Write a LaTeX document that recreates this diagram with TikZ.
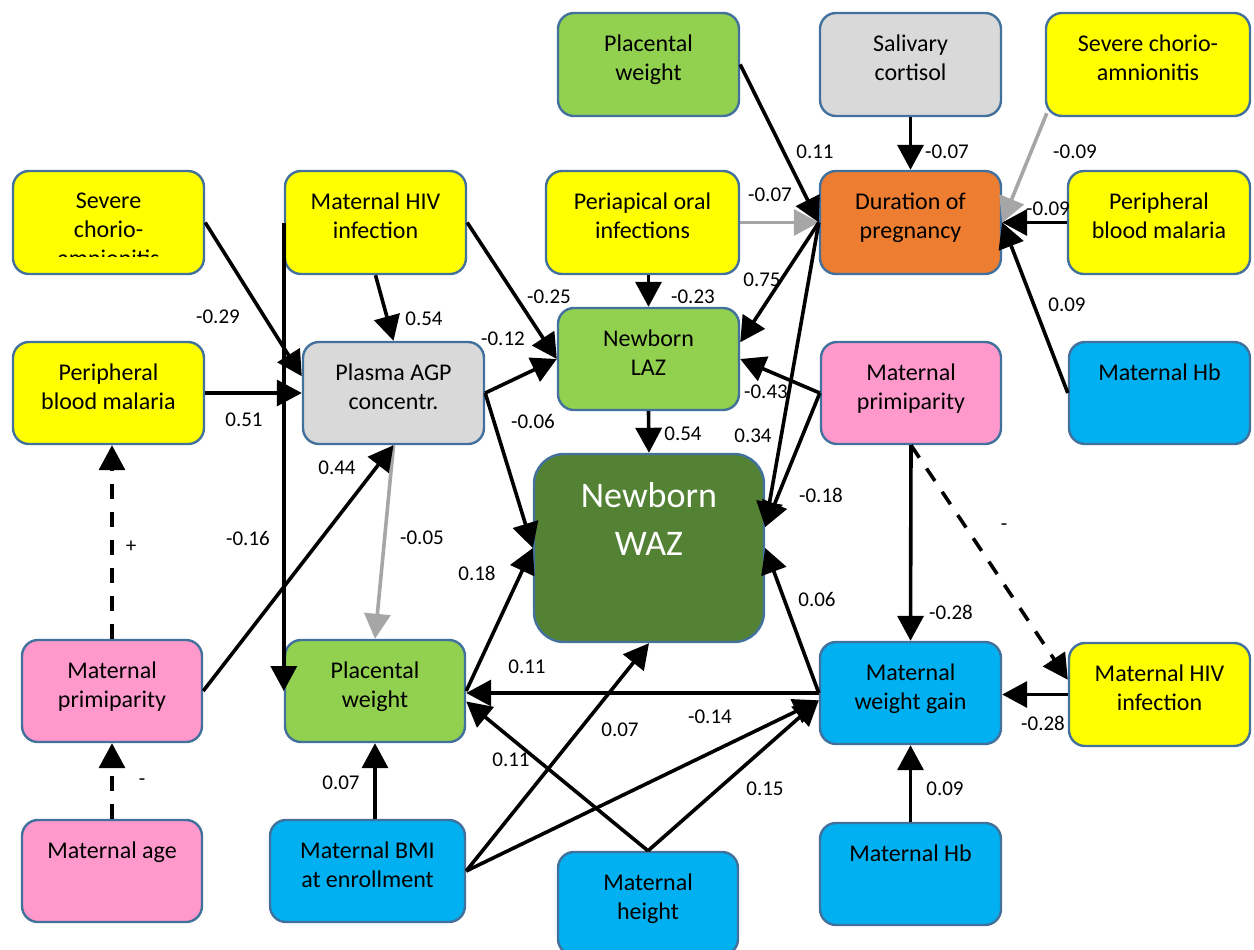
\documentclass[tikz,border=0pt]{standalone}
\usepackage{fontspec}
\setmainfont{Carlito}
\usetikzlibrary{arrows.meta,fit,calc}
\definecolor{cyel}{HTML}{FFFF00}
\definecolor{cgrn}{HTML}{92D050}
\definecolor{cgry}{HTML}{D9D9D9}
\definecolor{cora}{HTML}{ED7D31}
\definecolor{cpnk}{HTML}{FF99CC}
\definecolor{cblu}{HTML}{00B0F0}
\definecolor{cdgr}{HTML}{548235}
\definecolor{cbrd}{HTML}{41719C}
\definecolor{carr}{HTML}{A6A6A6}
\newcommand\bx[7]{\node[box,fill=#6,fit={(#2,#3)(#4,#5)}] (#1) {};
  \node[btext] (#1t) at ([yshift=-11.5pt]#1.north) {#7};}
\begin{document}
\begin{tikzpicture}[x=0.5pt,y=-0.5pt,
  box/.style={draw=cbrd, line width=1.2pt, rounded corners=8pt, inner sep=0pt, rectangle},
  btext/.style={inner sep=0pt, align=center, font=\fontsize{12}{14.5}\selectfont, anchor=north},
  lab/.style={inner sep=0pt, font=\fontsize{10.5}{12}\selectfont},
  arr/.style={line width=1.8pt, -{Triangle[length=12.5pt,width=13pt]}},
  garr/.style={arr, draw=carr},
  darr/.style={arr, dash pattern=on 7.5pt off 6.5pt}]
\useasboundingbox (0,0) rectangle (1254,949);
% boxes
\bx{pwT}{558}{13}{739}{116}{cgrn}{Placental\\weight}
\bx{sal}{820}{13}{1001}{116}{cgry}{Salivary\\cortisol}
\bx{scR}{1046}{13}{1250}{116}{cyel}{Severe chorio-\\amnionitis}
\bx{hiv1}{285}{171}{466}{274}{cyel}{Maternal HIV\\infection}
\bx{peri}{546}{171}{739}{274}{cyel}{Periapical oral\\infections}
\bx{dur}{820}{171}{1001}{274}{cora}{Duration of\\pregnancy}
\bx{pbmR}{1068}{171}{1250}{274}{cyel}{Peripheral\\blood malaria}
\node[box,fill=cyel,fit={(13,171)(204,274)}] (scL) {};
\begin{scope}
  \clip (13,171) rectangle (204,256);
  \node[btext] (scLt) at ([yshift=-11.5pt]scL.north) {Severe\\chorio-\\amnionitis};
\end{scope}
\bx{laz}{558}{308}{739}{410}{cgrn}{Newborn\\LAZ}
\bx{pbmL}{13}{342}{204}{444}{cyel}{Peripheral\\blood malaria}
\bx{agp}{303}{342}{484}{444}{cgry}{Plasma AGP\\concentr.}
\bx{prR}{821}{342}{1001}{444}{cpnk}{Maternal\\primiparity}
\bx{hbR}{1069}{342}{1250}{444}{cblu}{Maternal Hb}
\node[box,rounded corners=15pt,fill=cdgr,fit={(534,454)(764,642)}] (waz) {};
\node[inner sep=0pt,align=center,text=white,font=\fontsize{18}{24}\selectfont,anchor=north] (wazt) at ([yshift=-14.5pt]waz.north) {Newborn\\WAZ};
\bx{prL}{22}{640}{202}{742}{cpnk}{Maternal\\primiparity}
\bx{pwB}{285}{640}{465}{742}{cgrn}{Placental\\weight}
\bx{wg}{820}{642}{1001}{744}{cblu}{Maternal\\weight gain}
\bx{hivR}{1069}{643}{1250}{746}{cyel}{Maternal HIV\\infection}
\bx{age}{22}{820}{202}{922}{cpnk}{Maternal age}
\bx{bmi}{270}{820}{465}{922}{cblu}{Maternal BMI\\at enrollment}
\bx{ht}{558}{852}{738}{955}{cblu}{Maternal\\height}
\bx{hbB}{820}{823}{1001}{925}{cblu}{Maternal Hb}
% helper coordinates
\coordinate (lazE1) at ($(laz.north east)!0.34!(laz.south east)$);
\coordinate (wazE1) at ($(waz.north east)!0.39!(waz.south east)$);
\coordinate (agpW1) at ($(agp.north west)!0.34!(agp.south west)$);
\coordinate (hivW1) at ($(hivR.north west)!0.36!(hivR.south west)$);
\coordinate (wgW1) at ($(wg.north west)!0.57!(wg.south west)$);
\coordinate (pwBE1) at ($(pwB.north east)!0.6!(pwB.south east)$);
\coordinate (scRs) at ([xshift=1pt,yshift=2pt]scR.south west);
% connectors
\draw[arr] (pwT.east) -- (dur.west);
\draw[arr] (sal.south) -- (dur.north);
\draw[garr] (scRs) -- (dur.east);
\draw[arr] (pbmR.west) -- (dur.east);
\draw[arr] (hbR.west) -- (dur.east);
\draw[garr] (peri.east) -- (dur.west);
\draw[arr] (dur.west) -- (lazE1);
\draw[arr] (dur.west) -- (wazE1);
\draw[arr] (peri.south -| laz.north) -- (laz.north);
\draw[arr] (hiv1.east) -- (laz.west);
\draw[arr] (hiv1.south) -- (agp.north);
\draw[arr] (hiv1.west) -- (pwB.west);
\draw[arr] (scL.east) -- (agpW1);
\draw[arr] (pbmL.east) -- (agp.west);
\draw[arr] (agp.east) -- (laz.west);
\draw[arr] (agp.east) -- (waz.west);
\draw[garr] (agp.south) -- (pwB.north);
\draw[arr] (prL.east) -- (agp.south);
\draw[darr] (prL.north) -- (prL.north |- pbmL.south);
\draw[darr] (age.north) -- (prL.south);
\draw[arr] (laz.south) -- (waz.north);
\draw[arr] (prR.west) -- (laz.east);
\draw[arr] (prR.west) -- (wazE1);
\draw[arr] (prR.south) -- (wg.north);
\draw[darr] (prR.south) -- (hivW1);
\draw[arr] (hivR.west) -- (hivR.west -| wg.east);
\draw[arr] (wg.west) -- (waz.east);
\draw[arr] (wg.west) -- (wg.west -| pwB.east);
\draw[arr] (pwB.east) -- (waz.west);
\draw[arr] (pwB.south |- bmi.north) -- (pwB.south);
\draw[arr] (bmi.east) -- (waz.south);
\draw[arr] (bmi.east) -- (wgW1);
\draw[arr] (ht.north) -- (pwBE1);
\draw[arr] (ht.north) -- (wgW1);
\draw[arr] (hbB.north) -- (wg.south);
% labels
\node[lab] (l01) at (815,152) {0.11};
\node[lab] (l02) at (947,152) {-0.07};
\node[lab] (l03) at (1075,152) {-0.09};
\node[lab] (l04) at (1048,209) {-0.09};
\node[lab] (l05) at (1067,305) {0.09};
\node[lab] (l06) at (770,195) {-0.07};
\node[lab] (l07) at (762,280) {0.75};
\node[lab] (l08) at (549,297) {-0.25};
\node[lab] (l09) at (693,297) {-0.23};
\node[lab] (l10) at (424,319) {0.54};
\node[lab] (l11) at (503,339) {-0.12};
\node[lab] (l12) at (533,421) {-0.06};
\node[lab] (l13) at (683,434) {0.54};
\node[lab] (l14) at (753,436) {0.34};
\node[lab] (l15) at (766,392) {-0.43};
\node[lab] (l16) at (821,495) {-0.18};
\node[lab] (l17) at (1004,527) {-};
\node[lab] (l18) at (951,612) {-0.28};
\node[lab] (l19) at (817,599) {0.06};
\node[lab] (l20) at (218,317) {-0.29};
\node[lab] (l21) at (244,420) {0.51};
\node[lab] (l22) at (337,468) {0.44};
\node[lab] (l23) at (131,547) {+};
\node[lab] (l24) at (248,538) {-0.16};
\node[lab] (l25) at (422,538) {-0.05};
\node[lab] (l26) at (477,573) {0.18};
\node[lab] (l27) at (142,782) {-};
\node[lab] (l28) at (341,783) {0.07};
\node[lab] (l29) at (527,667) {0.11};
\node[lab] (l30) at (710,717) {-0.14};
\node[lab] (l31) at (620,730) {0.07};
\node[lab] (l32) at (511,760) {0.11};
\node[lab] (l33) at (765,789) {0.15};
\node[lab] (l34) at (945,789) {0.09};
\node[lab] (l35) at (1043,723) {-0.28};
\end{tikzpicture}
\end{document}
